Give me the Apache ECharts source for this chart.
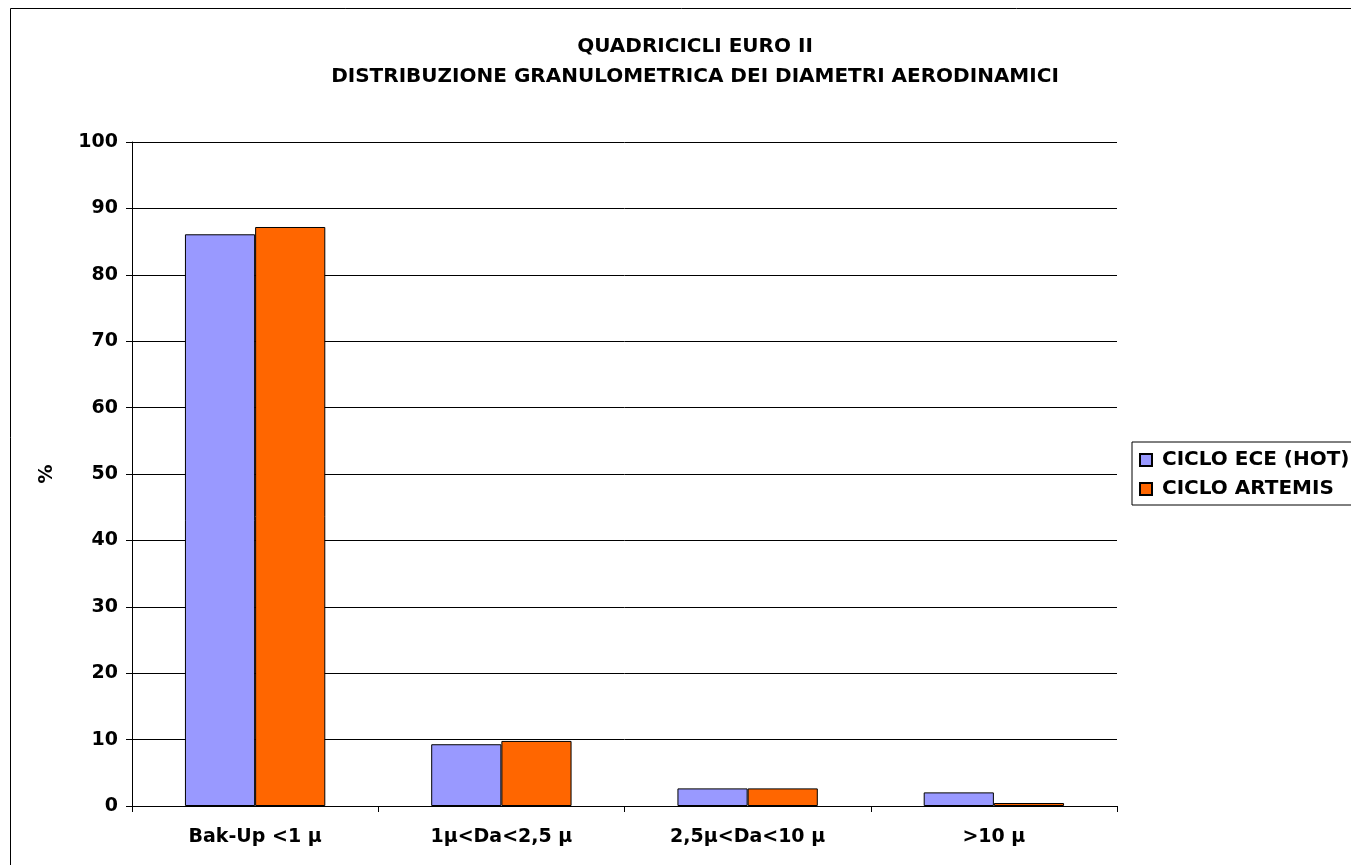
<!DOCTYPE html>
<html><head><meta charset="utf-8">
<script src="https://cdn.jsdelivr.net/npm/echarts@6/dist/echarts.min.js"></script>
<style>html,body{margin:0;padding:0;background:#fff}#c{width:1351px;height:865px}</style>
</head><body><div id="c"></div>
<script>
const categories = ['Bak-Up <1 \u00b5', '1\u00b5<Da<2,5 \u00b5', '2,5\u00b5<Da<10 \u00b5', '>10 \u00b5'];
const seriesNames = ['CICLO ECE (HOT)', 'CICLO ARTEMIS'];
const eceValues = [86.1, 9.3, 2.65, 2.05];
const artemisValues = [87.2, 9.8, 2.65, 0.45];
const titleLines = ['QUADRICICLI EURO II', 'DISTRIBUZIONE GRANULOMETRICA DEI DIAMETRI AERODINAMICI'];

const font = 'DejaVu Sans, Liberation Sans, sans-serif';
const chart = echarts.init(document.getElementById('c'), null, {renderer: 'canvas'});
chart.setOption({
  backgroundColor: '#fff',
  animation: false,
  title: {
    text: titleLines.join('\n'),
    left: 690, textAlign: 'center', top: 27,
    textStyle: {fontFamily: font, fontWeight: 'bold', fontSize: 20, lineHeight: 30, color: '#000'}
  },
  graphic: [{type: 'rect', shape: {x: 10.5, y: 8.5, width: 1400, height: 900}, style: {fill: 'none', stroke: '#000', lineWidth: 1}}],
  legend: {
    orient: 'vertical', left: 1132, top: 442,
    padding: [8, 30, 6, 7], itemGap: 9,
    borderColor: '#000', borderWidth: 1,
    itemWidth: 12, itemHeight: 12,
    textStyle: {fontFamily: font, fontWeight: 'bold', fontSize: 20, color: '#000', padding: [0, 0, 0, 5]},
    data: seriesNames.map(n => ({name: n, icon: 'rect'}))
  },
  grid: {left: 132, right: 234, top: 142, bottom: 59},
  xAxis: {
    type: 'category', data: categories,
    axisLine: {lineStyle: {color: '#000', width: 1}},
    axisTick: {show: true, length: 6, lineStyle: {color: '#000'}},
    axisLabel: {fontFamily: font, fontWeight: 'bold', fontSize: 19, color: '#000', margin: 22}
  },
  yAxis: {
    type: 'value', min: 0, max: 100, interval: 10,
    name: '%', nameLocation: 'middle', nameRotate: 90, nameGap: 75,
    nameTextStyle: {fontFamily: font, fontWeight: 'bold', fontSize: 19, color: '#000'},
    axisLine: {show: true, lineStyle: {color: '#000'}},
    axisTick: {show: true, length: 6, lineStyle: {color: '#000'}},
    axisLabel: {fontFamily: font, fontWeight: 'bold', fontSize: 19, color: '#000', margin: 14},
    splitLine: {lineStyle: {color: '#000', width: 1}}
  },
  series: [
    {name: seriesNames[0], type: 'bar', data: eceValues, barGap: '0%', barCategoryGap: '43%',
     itemStyle: {color: '#9999FF', borderColor: '#000', borderWidth: 1}},
    {name: seriesNames[1], type: 'bar', data: artemisValues, barGap: '0%', barCategoryGap: '43%',
     itemStyle: {color: '#FF6600', borderColor: '#000', borderWidth: 1}}
  ]
});
</script></body></html>
